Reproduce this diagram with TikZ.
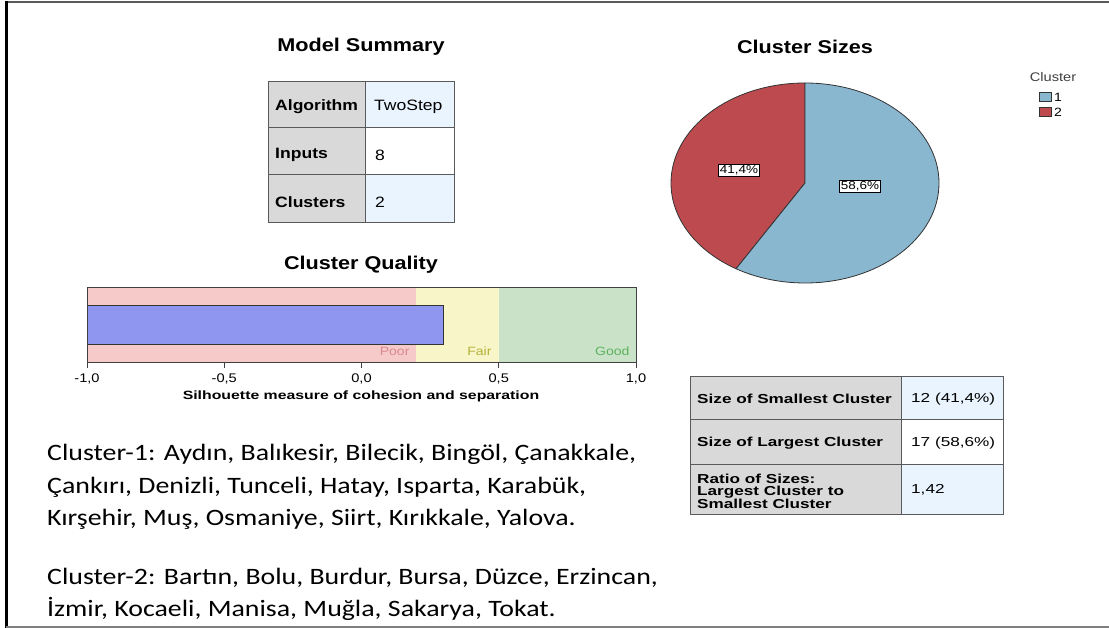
\documentclass[tikz,border=0pt]{standalone}
\usepackage{fontspec}
\setmainfont{Liberation Sans}
\newfontfamily\wsans[FakeStretch=1.17]{Liberation Sans}
\newfontfamily\wsansB[FakeStretch=1.32]{Liberation Sans}
\newfontfamily\calib[FakeStretch=1.185]{Carlito}
\definecolor{tabGray}{HTML}{D9D9D9}
\definecolor{tabBlue}{HTML}{EAF4FE}
\definecolor{tabLine}{HTML}{5A5A5A}
\definecolor{poorC}{HTML}{F7CACA}
\definecolor{fairC}{HTML}{F8F6C8}
\definecolor{goodC}{HTML}{C9E2C8}
\definecolor{barC}{HTML}{8F96EF}
\definecolor{poorT}{HTML}{D98A90}
\definecolor{fairT}{HTML}{B5B03A}
\definecolor{goodT}{HTML}{5DB35D}
\definecolor{pieBlue}{HTML}{8AB7D0}
\definecolor{pieRed}{HTML}{BD4A4E}
\tikzset{
  cellbox/.style={draw=tabLine, line width=1.2pt, anchor=north west, inner sep=0pt},
  ctxt/.style={anchor=west, inner sep=0pt, font=\wsans\fontsize{15}{17}\selectfont},
  ctxtb/.style={anchor=west, inner sep=0pt, font=\wsans\bfseries\fontsize{15}{17}\selectfont},
  stxt/.style={anchor=west, inner sep=0pt, align=left, font=\wsansB\fontsize{13}{12}\selectfont},
  stxtb/.style={anchor=west, inner sep=0pt, align=left, font=\wsansB\bfseries\fontsize{13}{12.5}\selectfont},
  title/.style={font=\wsans\bfseries\fontsize{18.5}{20}\selectfont},
  tick/.style={font=\wsans\fontsize{12.5}{14}\selectfont},
  zone/.style={font=\wsans\fontsize{12}{14}\selectfont, anchor=east},
  plab/.style={draw=black, fill=white, inner sep=1.2pt, line width=0.6pt, font=\wsans\fontsize{11.5}{12}\selectfont},
  body/.style={font=\calib\fontsize{23.5}{26}\selectfont, anchor=base west, inner sep=0pt},
}
\begin{document}
\begin{tikzpicture}[x=1pt,y=-1pt]
\useasboundingbox (0,0) rectangle (1109,628);
\fill[white] (0,0) rectangle (1109,628);
% frame
\draw[color=tabLine, line width=2.5pt] (5.5,2) -- (1109,2);
\draw[black, line width=2.5pt] (6.5,1) -- (6.5,628);
\draw[color=gray, line width=2pt] (6,627) -- (1109,627);

% Model summary
\node[title] (mstitle) at (361,47) {Model Summary};
\node[cellbox, fill=tabGray, minimum width=97, minimum height=46] (a1) at (268,81) {};
\node[cellbox, fill=tabBlue, minimum width=89, minimum height=46] (b1) at (365,81) {};
\node[cellbox, fill=tabGray, minimum width=97, minimum height=47] (a2) at (268,127) {};
\node[cellbox, fill=white, minimum width=89, minimum height=47] (b2) at (365,127) {};
\node[cellbox, fill=tabGray, minimum width=97, minimum height=48] (a3) at (268,174) {};
\node[cellbox, fill=tabBlue, minimum width=89, minimum height=48] (b3) at (365,174) {};
\node[ctxtb] (a1t) at (275,107) {Algorithm};
\node[ctxt] (b1t) at (374,107) {TwoStep};
\node[ctxtb] (a2t) at (275,155) {Inputs};
\node[ctxt] (b2t) at (375,155) {8};
\node[ctxtb] (a3t) at (275,202) {Clusters};
\node[ctxt] (b3t) at (375,202) {2};

% Cluster quality
\node[title] (cqtitle) at (361,265) {Cluster Quality};
\fill[poorC] (87,287) rectangle (416,362);
\fill[fairC] (416,287) rectangle (498.75,362);
\fill[goodC] (498.75,287) rectangle (636,362);
\node[draw=black!80, line width=1.2pt, fill=barC, anchor=north west, minimum width=356, minimum height=39, inner sep=0] (bar) at (87,305) {};
\node[draw=black!75, line width=1.2pt, anchor=north west, minimum width=549, minimum height=75, inner sep=0] (chart) at (87,287) {};
\node[zone, text=poorT] (poor) at (413,351) {Poor};
\node[zone, text=fairT] (fair) at (495,351) {Fair};
\node[zone, text=goodT] (good) at (633,351) {Good};
\foreach \v/\x/\n in {{-1,0}/87/t1,{-0,5}/224.25/t2,{0,0}/361.5/t3,{0,5}/498.75/t4,{1,0}/636/t5}{
  \draw[black!75, line width=1pt] (\x,362) -- (\x,368);
  \node[tick] (\n) at (\x,379) {\v};
}
\node[font=\wsansB\bfseries\fontsize{12}{13}\selectfont] (axtitle) at (361,396) {Silhouette measure of cohesion and separation};

% Pie
\node[title] (cstitle) at (805,47) {Cluster Sizes};
\coordinate (pc) at (805,183);
\filldraw[fill=pieRed, draw=black!80, line width=0.8pt] (pc) -- ++(0,-100) arc[start angle=270, end angle=120.96, x radius=134, y radius=100] -- cycle;
\filldraw[fill=pieBlue, draw=black!80, line width=0.8pt] (pc) -- ++(0,-100) arc[start angle=270, end angle=480.96, x radius=134, y radius=100] -- cycle;
\node[plab] (l2) at (739,170) {41,4\%};
\node[plab] (l1) at (860,186) {58,6\%};
% legend
\node[font=\wsans\fontsize{12.5}{13}\selectfont, text=black!75] (legt) at (1053,77) {Cluster};
\node[draw=black!80, fill=pieBlue, minimum width=12, minimum height=9, inner sep=0, line width=0.8pt] (lg1) at (1045,97) {};
\node[draw=black!80, fill=pieRed, minimum width=12, minimum height=9, inner sep=0, line width=0.8pt] (lg2) at (1045,112) {};
\node[font=\wsans\fontsize{12}{13}\selectfont, anchor=west, inner sep=2.5pt] (lg1t) at (lg1.east) {1};
\node[font=\wsans\fontsize{12}{13}\selectfont, anchor=west, inner sep=2.5pt] (lg2t) at (lg2.east) {2};

% size table
\node[cellbox, fill=tabGray, minimum width=211, minimum height=43] (s1) at (690,376) {};
\node[cellbox, fill=tabBlue, minimum width=102, minimum height=43] (v1) at (901,376) {};
\node[cellbox, fill=tabGray, minimum width=211, minimum height=45] (s2) at (690,419) {};
\node[cellbox, fill=white, minimum width=102, minimum height=45] (v2) at (901,419) {};
\node[cellbox, fill=tabGray, minimum width=211, minimum height=50] (s3) at (690,464) {};
\node[cellbox, fill=tabBlue, minimum width=102, minimum height=50] (v3) at (901,464) {};
\node[stxtb] (s1t) at (697,399) {Size of Smallest Cluster};
\node[stxt] (v1t) at (911,399) {12 (41,4\%)};
\node[stxtb] (s2t) at (697,443) {Size of Largest Cluster};
\node[stxt] (v2t) at (911,443) {17 (58,6\%)};
\node[stxtb] (s3t) at (697,491) {Ratio of Sizes:\\Largest Cluster to\\Smallest Cluster};
\node[stxt] (v3t) at (911,490) {1,42};

% cluster lists
\node[body] (c1a) at (47,460) {Cluster-1: Aydın, Balıkesir, Bilecik, Bingöl, Çanakkale,};
\node[body] (c1b) at (47,493) {Çankırı, Denizli, Tunceli, Hatay, Isparta, Karabük,};
\node[body] (c1c) at (47,525) {Kırşehir, Muş, Osmaniye, Siirt, Kırıkkale, Yalova.};
\node[body] (c2a) at (47,584) {Cluster-2: Bartın, Bolu, Burdur, Bursa, Düzce, Erzincan,};
\node[body] (c2b) at (47,616) {İzmir, Kocaeli, Manisa, Muğla, Sakarya, Tokat.};
\end{tikzpicture}
\end{document}
